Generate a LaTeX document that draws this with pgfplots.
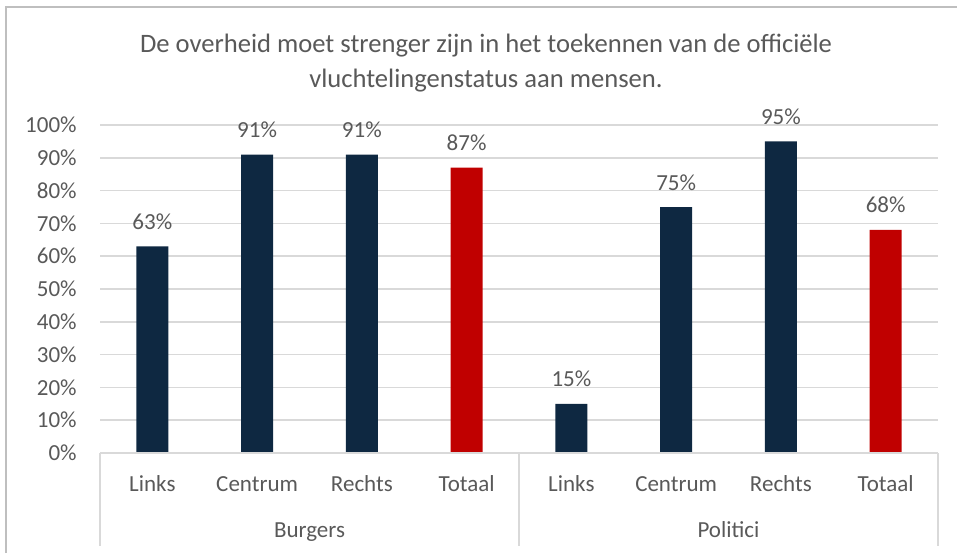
\documentclass[border=0pt]{standalone}
\usepackage{fontspec}
\setmainfont{Carlito}
\usepackage{pgfplots}
\pgfplotsset{compat=1.18}
\definecolor{navy}{HTML}{0E2841}
\definecolor{barred}{HTML}{C00000}
\definecolor{txt}{HTML}{595959}
\definecolor{gridc}{HTML}{D9D9D9}
\definecolor{framec}{HTML}{BFBFBF}
\newcommand{\lblfont}{\fontsize{11.5}{13.8}\selectfont}
\begin{document}
\begin{tikzpicture}[x=1pt,y=1pt]
\path[use as bounding box] (0,0) rectangle (478.5,276.5);
\draw[framec, line width=0.75pt] (3,0) -- (3,273) -- (478.5,273);
\node[anchor=base, txt, font=\fontsize{13.3}{16}\selectfont] at (243,250.5) {De overheid moet strenger zijn in het toekennen van de officiële};
\node[anchor=base, txt, font=\fontsize{13.3}{16}\selectfont] at (243,233) {vluchtelingenstatus aan mensen.};
\begin{axis}[
  at={(50pt,50pt)}, anchor=south west, scale only axis,
  width=419pt, height=164pt,
  xmin=-0.5, xmax=7.5, ymin=0, ymax=100,
  ytick={0,10,...,100},
  yticklabel={\pgfmathprintnumber{\tick}\%},
  /pgf/number format/assume math mode=true,
  xtick={0,...,7},
  xticklabels={Links,Centrum,Rechts,Totaal,Links,Centrum,Rechts,Totaal},
  ymajorgrids,
  grid style={gridc, line width=0.75pt},
  axis line style={draw=none},
  major tick length=0pt,
  tick label style={font=\lblfont, text=txt},
  yticklabel style={anchor=east, inner sep=0pt, xshift=-11.5pt},
  xticklabel style={anchor=base, inner sep=0pt, yshift=-19pt},
  ybar, bar width=16pt, bar shift=0pt,
  clip=false,
  nodes near coords={\pgfmathprintnumber{\pgfplotspointmeta}\%},
  every node near coord/.append style={anchor=base, inner sep=0pt, yshift=8.5pt, font=\lblfont, text=txt},
]
\addplot[fill=navy, draw=none] coordinates {(0,63) (1,91) (2,91) (4,15) (5,75) (6,95)};
\addplot[fill=barred, draw=none] coordinates {(3,87) (7,68)};
\draw[gridc, line width=0.75pt] (axis cs:-0.5,0) -- (axis cs:7.5,0);
\draw[gridc, line width=0.75pt] (axis cs:-0.5,0) -- ++(0pt,-46.5pt);
\draw[gridc, line width=0.75pt] (axis cs:3.5,0) -- ++(0pt,-46.5pt);
\draw[gridc, line width=0.75pt] (axis cs:7.5,0) -- ++(0pt,-46.5pt);
\node[anchor=base, txt, font=\lblfont, inner sep=0pt] at ([yshift=-42pt]axis cs:1.5,0) {Burgers};
\node[anchor=base, txt, font=\lblfont, inner sep=0pt] at ([yshift=-42pt]axis cs:5.5,0) {Politici};
\end{axis}
\end{tikzpicture}
\end{document}
